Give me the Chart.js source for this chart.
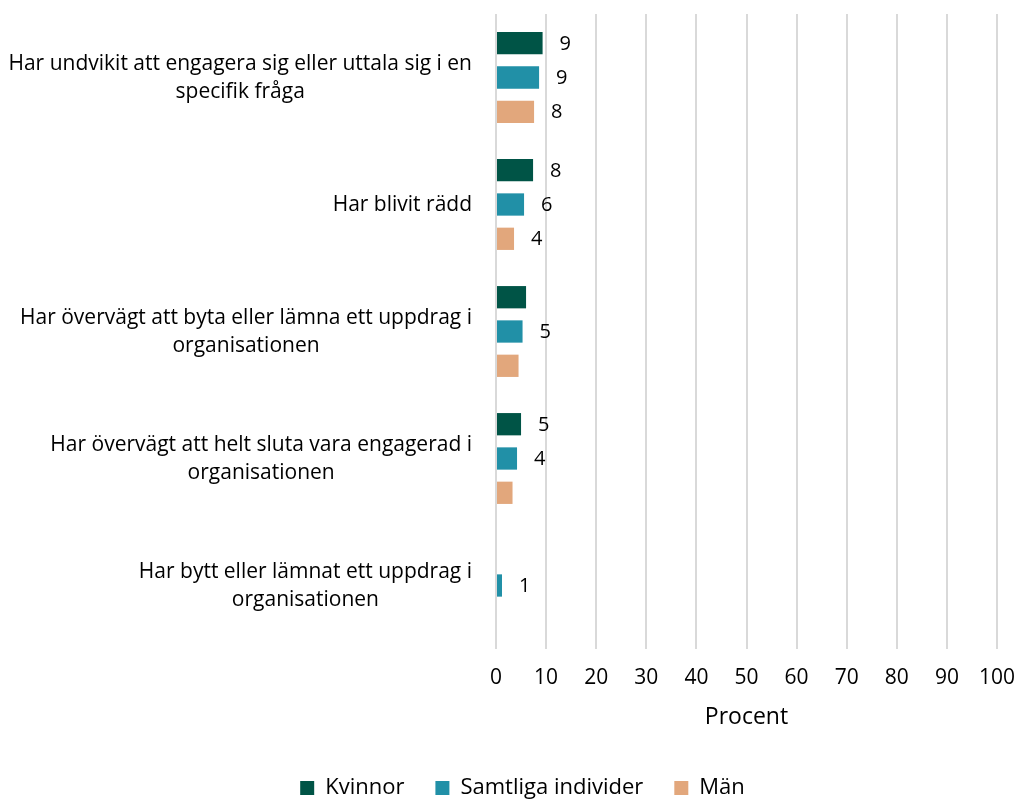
<!DOCTYPE html>
<html>
<head>
<meta charset="utf-8">
<script src="https://cdn.jsdelivr.net/npm/chart.js@4.4.1/dist/chart.umd.min.js"></script>
<style>
  html, body { margin: 0; padding: 0; background: #fff; }
  #wrap { width: 1019px; height: 799px; }
</style>
</head>
<body>
<div id="wrap"><canvas id="chart"></canvas></div>
<script>
// Data
const categories = [
    ['Har undvikit att engagera sig eller uttala sig i en', 'specifik fråga'],
    ['Har blivit rädd'],
    ['Har övervägt att byta eller lämna ett uppdrag i', 'organisationen'],
    ['Har övervägt att helt sluta vara engagerad i', 'organisationen'],
    ['Har bytt eller lämnat ett uppdrag i', 'organisationen']
];
const seriesNames = ['Kvinnor', 'Samtliga individer', 'Män'];
const kvinnor = [9.3, 7.4, 6.0, 5.0, null];
const samtliga = [8.6, 5.6, 5.3, 4.2, 1.2];
const man = [7.6, 3.6, 4.5, 3.3, null];
// value labels shown in the original (null = no label)
const kvinnorLabels = ['9', '8', null, '5', null];
const samtligaLabels = ['9', '6', '5', '4', '1'];
const manLabels = ['8', '4', null, null, null];
const xTicks = [0, 10, 20, 30, 40, 50, 60, 70, 80, 90, 100];

const FONT = '"Open Sans", sans-serif';
const TXT = '#000000';

// Kategoritexter: rader centrerade, blocket högerjusterat
const catLabelPlugin = {
    id: 'catLabels',
    afterDraw(chart) {
        const ctx = chart.ctx;
        const y = chart.scales.y;
        const rightEdge = chart.chartArea.left - 24;
        const lh = 28;
        ctx.save();
        ctx.font = '21px ' + FONT;
        ctx.fillStyle = TXT;
        ctx.textAlign = 'center';
        ctx.textBaseline = 'middle';
        categories.forEach((lines, i) => {
            const cy = y.getPixelForTick(i) + 1;
            const w = Math.max(...lines.map(l => ctx.measureText(l).width));
            const cx = rightEdge - w / 2;
            const top = cy - (lines.length - 1) * lh / 2;
            lines.forEach((l, j) => ctx.fillText(l, cx, top + j * lh));
        });
        ctx.restore();
    }
};

// Värdeetiketter till höger om staplarna
const valueLabelPlugin = {
    id: 'valueLabels',
    afterDatasetsDraw(chart) {
        const ctx = chart.ctx;
        const labelSets = [kvinnorLabels, samtligaLabels, manLabels];
        ctx.save();
        ctx.font = '20px ' + FONT;
        ctx.fillStyle = TXT;
        ctx.textAlign = 'left';
        ctx.textBaseline = 'middle';
        chart.data.datasets.forEach((ds, di) => {
            const meta = chart.getDatasetMeta(di);
            meta.data.forEach((bar, i) => {
                const txt = labelSets[di][i];
                if (txt == null) return;
                ctx.fillText(txt, bar.x + 17, bar.y + 1);
            });
        });
        ctx.restore();
    }
};

const ctx = document.getElementById('chart').getContext('2d');
new Chart(ctx, {
    type: 'bar',
    data: {
        labels: categories,
        datasets: [
            { label: seriesNames[0], data: kvinnor, backgroundColor: '#005446' },
            { label: seriesNames[1], data: samtliga, backgroundColor: '#2190a7' },
            { label: seriesNames[2], data: man, backgroundColor: '#e2a77c' }
        ]
    },
    options: {
        indexAxis: 'y',
        responsive: true,
        maintainAspectRatio: false,
        animation: false,
        categoryPercentage: 0.81,
        barPercentage: 0.65,
        layout: { padding: { left: 48, right: 22, top: 14, bottom: -10 } },
        scales: {
            x: {
                min: 0,
                max: 100,
                afterBuildTicks: (s) => { s.ticks = xTicks.map(v => ({ value: v })); },
                afterFit: (s) => { s.paddingLeft = 0; s.paddingRight = 0; s.height = 97; },
                grid: { color: '#d9d9d9', lineWidth: 2, drawTicks: false },
                border: { display: false },
                ticks: { color: TXT, font: { family: FONT, size: 21 }, padding: 16 },
                title: {
                    display: true, text: 'Procent', color: TXT,
                    font: { family: FONT, size: 23 },
                    padding: { top: 0, bottom: 15 }
                }
            },
            y: {
                grid: { display: false },
                border: { display: false },
                ticks: { display: false },
                afterFit: (s) => { s.width = 448; }
            }
        },
        plugins: {
            legend: {
                position: 'bottom',
                labels: {
                    color: TXT,
                    font: { family: FONT, size: 22 },
                    boxWidth: 14,
                    boxHeight: 14,
                    padding: 31
                }
            },
            tooltip: { enabled: false }
        }
    },
    plugins: [catLabelPlugin, valueLabelPlugin]
});
</script>
</body>
</html>
